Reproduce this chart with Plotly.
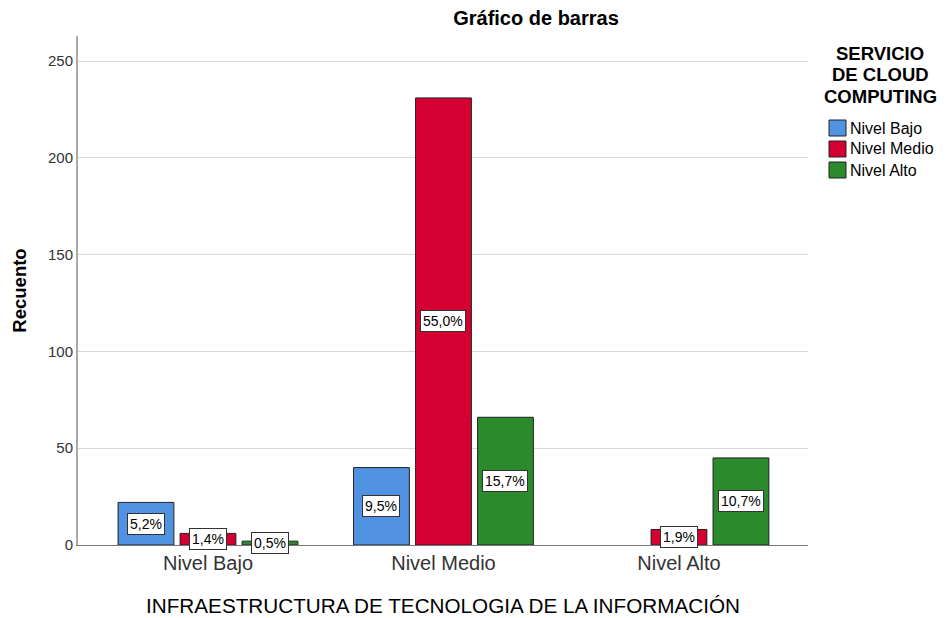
import plotly.graph_objects as go

categories = ["Nivel Bajo", "Nivel Medio", "Nivel Alto"]
series_names = ["Nivel Bajo", "Nivel Medio", "Nivel Alto"]
counts_bajo = [22, 40, 0]
counts_medio = [6, 231, 8]
counts_alto = [2, 66, 45]
pct_bajo = ["5,2%", "9,5%", None]
pct_medio = ["1,4%", "55,0%", "1,9%"]
pct_alto = ["0,5%", "15,7%", "10,7%"]
colors = ["#5292e2", "#d50032", "#2b8a2b"]
y_ticks = [0, 50, 100, 150, 200, 250]
legend_title_lines = ["SERVICIO", "DE CLOUD", "COMPUTING"]

FONT = "Liberation Sans, Arial, sans-serif"

# pixel -> paper helpers (plot area spans x 78..808, y 36..545 in page pixels,
# page has an 8px body margin)
def px_x(px):
    return (px - 78) / 730.0

def px_y(py):
    return (545 - py) / 509.0

fig = go.Figure()
all_counts = [counts_bajo, counts_medio, counts_alto]
all_pcts = [pct_bajo, pct_medio, pct_alto]
for name, vals, col in zip(series_names, all_counts, colors):
    fig.add_trace(go.Bar(
        x=categories, y=vals, name=name,
        marker=dict(color=col,
                    line=dict(color="#222222",
                              width=[1 if v > 0 else 0 for v in vals])),
        hoverinfo="skip", showlegend=False,
    ))

# value labels at mid-height, offset per series within the group
offsets = [-1, 0, 1]
slot = (1 - 0.21) / 3
for si, (vals, pcts) in enumerate(zip(all_counts, all_pcts)):
    for ci, (v, p) in enumerate(zip(vals, pcts)):
        if p is None:
            continue
        fig.add_annotation(
            x=ci + offsets[si] * slot, y=v / 2, xref="x", yref="y",
            text=p, showarrow=False,
            font=dict(family=FONT, size=14, color="#000000"),
            bgcolor="#ffffff", bordercolor="#333333", borderwidth=1, borderpad=2,
        )

# legend title
for i, line in enumerate(legend_title_lines):
    fig.add_annotation(
        x=px_x(880), y=px_y(53.5 + i * 21.5), xref="paper", yref="paper",
        text="<b>" + line + "</b>", showarrow=False,
        xanchor="center", yanchor="middle",
        font=dict(family=FONT, size=18.5, color="#000000"),
    )

# manual legend entries
for i, (name, col) in enumerate(zip(series_names, colors)):
    cy = 128 + i * 21
    fig.add_shape(
        type="rect", xref="paper", yref="paper",
        x0=px_x(829), x1=px_x(846), y0=px_y(cy - 8), y1=px_y(cy + 8),
        fillcolor=col, line=dict(color="#222222", width=1),
    )
    fig.add_annotation(
        x=px_x(848), y=px_y(cy), xref="paper", yref="paper",
        text=name, showarrow=False, xanchor="left", yanchor="middle",
        font=dict(family=FONT, size=16, color="#000000"),
    )

fig.update_layout(
    width=940, height=610,
    paper_bgcolor="#ffffff", plot_bgcolor="#ffffff",
    margin=dict(l=70, r=140, t=28, b=73, autoexpand=False),
    barmode="group", bargap=0.21, bargroupgap=0.1,
    title=dict(text="<b>Gráfico de barras</b>", x=0.5617, xanchor="center",
               y=0.984, yanchor="middle",
               font=dict(family=FONT, size=20, color="#000000")),
    showlegend=False,
    xaxis=dict(
        range=[-0.552, 2.548],
        showline=True, linecolor="#777777", linewidth=1,
        ticks="", tickfont=dict(family=FONT, size=20, color="#333333"),
        title=dict(text="INFRAESTRUCTURA DE TECNOLOGIA DE LA INFORMACIÓN",
                   font=dict(family=FONT, size=20.7, color="#000000"), standoff=25),
    ),
    yaxis=dict(
        range=[0, 263], tickvals=y_ticks,
        showgrid=True, gridcolor="#d9d9d9", gridwidth=1,
        showline=True, linecolor="#aaaaaa", linewidth=2,
        zeroline=False, ticks="",
        tickfont=dict(family=FONT, size=15, color="#333333"),
        title=dict(text="<b>Recuento</b>",
                   font=dict(family=FONT, size=18.5, color="#000000"), standoff=16),
    ),
)

fig.write_html("out.html")
